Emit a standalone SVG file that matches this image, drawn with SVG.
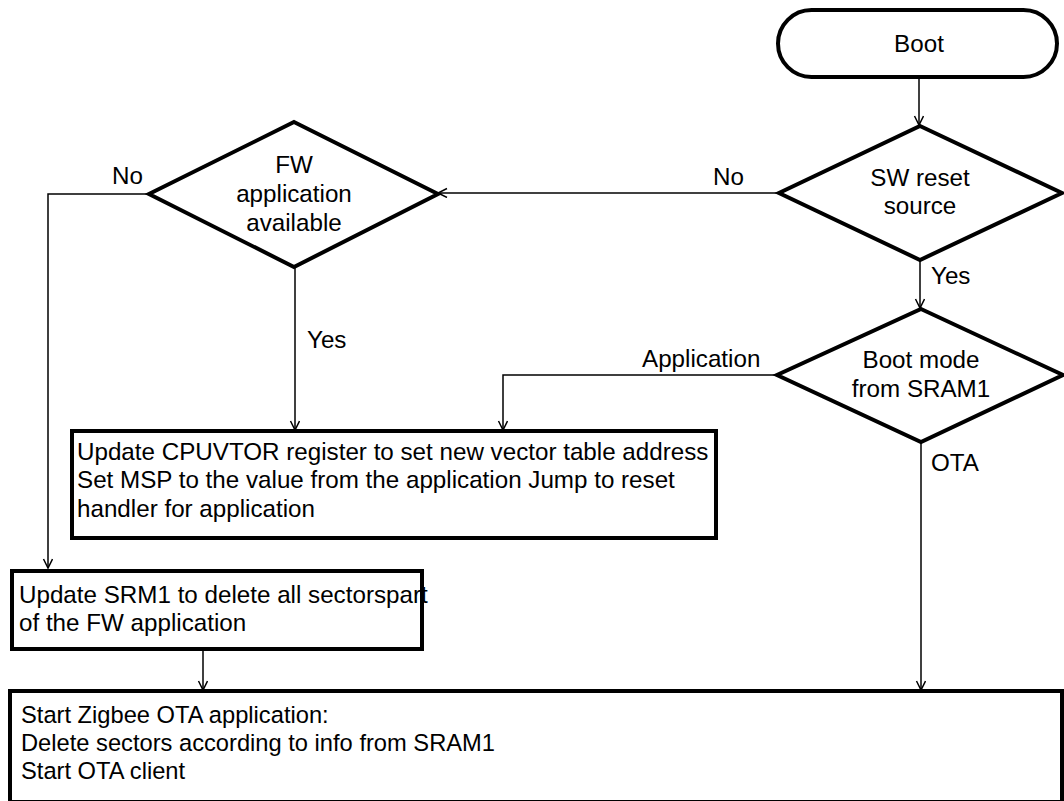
<svg xmlns="http://www.w3.org/2000/svg" width="1064" height="801" viewBox="0 0 1064 801">
<defs>
<style>
.shape{fill:#fff;stroke:#000;stroke-width:4}
.conn{fill:none;stroke:#000;stroke-width:1.5}
text{font-family:"Liberation Sans",Arial,sans-serif;font-size:24.2px;fill:#000}
.c{text-anchor:middle}
.s{font-size:23.7px}
</style>
<marker id="arr" markerWidth="12" markerHeight="12" refX="10" refY="5" orient="auto" markerUnits="userSpaceOnUse">
<path d="M1,0.5 L10,5 L1,9.5" fill="none" stroke="#000" stroke-width="1.5"/>
</marker>
</defs>
<rect width="1064" height="801" fill="#fff"/>
<g id="connectors">
<path class="conn" d="M919,77 V125" marker-end="url(#arr)"/>
<path class="conn" d="M779,193 H438" marker-end="url(#arr)"/>
<path class="conn" d="M149,194 H48 V568" marker-end="url(#arr)"/>
<path class="conn" d="M295,267 V430" marker-end="url(#arr)"/>
<path class="conn" d="M920,260 V308" marker-end="url(#arr)"/>
<path class="conn" d="M777,375 H503 V430" marker-end="url(#arr)"/>
<path class="conn" d="M921,442 V690" marker-end="url(#arr)"/>
<path class="conn" d="M203,650 V690" marker-end="url(#arr)"/>
<text x="112" y="184">No</text>
<text x="713" y="185">No</text>
<text x="931" y="284">Yes</text>
<text x="307" y="348">Yes</text>
<text x="642" y="367">Application</text>
<text x="931" y="471">OTA</text>
</g>
<g id="boot">
<rect class="shape" x="778" y="10" width="279" height="67" rx="33.5"/>
<text class="c" x="919" y="52">Boot</text>
</g>
<g id="sw-reset">
<polygon class="shape" points="920,126 1062,193 920,260 779,193"/>
<text class="c" x="920" y="186">SW reset</text>
<text class="c" x="920" y="214">source</text>
</g>
<g id="fw-available">
<polygon class="shape" points="294,122 438,194 294,267 149,194"/>
<text class="c" x="294" y="173">FW</text>
<text class="c" x="294" y="202">application</text>
<text class="c" x="294" y="231">available</text>
</g>
<g id="boot-mode">
<polygon class="shape" points="921,309 1063,375 921,442 777,375"/>
<text class="c" x="921" y="368">Boot mode</text>
<text class="c" x="921" y="397">from SRAM1</text>
</g>
<g id="jump-app">
<rect class="shape" x="72" y="431" width="644" height="107"/>
<text x="77" y="460">Update CPUVTOR register to set new vector table address</text>
<text x="77" y="488">Set MSP to the value from the application Jump to reset</text>
<text x="77" y="517">handler for application</text>
</g>
<g id="update-srm1">
<rect class="shape" x="12" y="571" width="410" height="78"/>
<text x="19" y="603">Update SRM1 to delete all sectorspart</text>
<text x="19" y="631">of the FW application</text>
</g>
<g id="ota-app">
<rect class="shape" x="10" y="691" width="1052" height="111"/>
<text class="s" x="21" y="723">Start Zigbee OTA application:</text>
<text class="s" x="21" y="751">Delete sectors according to info from SRAM1</text>
<text class="s" x="21" y="779">Start OTA client</text>
</g>
</svg>
